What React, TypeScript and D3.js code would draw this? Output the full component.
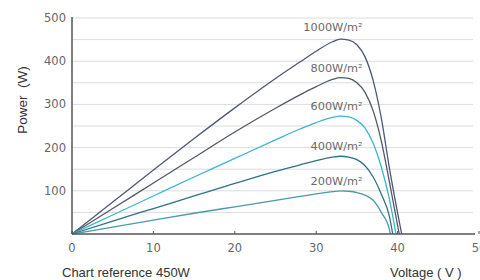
import React from "react";
import * as d3 from "d3";

const voltages = [0, 5, 10, 15, 20, 25, 28, 30, 32, 33, 34, 35, 36, 37, 38, 39];
const p1000 = [0, 74, 148, 221, 292, 360, 398, 423, 445, 451, 449, 438, 410, 355, 268, 152];
const p800 = [0, 59, 118, 177, 236, 291, 322, 341, 358, 362, 360, 350, 328, 285, 215, 120];
const p600 = [0, 44, 88, 132, 175, 218, 243, 258, 270, 273, 271, 263, 245, 210, 155, 80];
const p400 = [0, 30, 59, 88, 117, 145, 160, 170, 178, 180, 178, 172, 158, 132, 92, 40];
const p200 = [0, 16, 32, 48, 63, 78, 87, 93, 98, 100, 99, 96, 90, 78, 50, 10];
const vocs = [40.5, 40.2, 39.8, 39.4, 39.1];
const seriesLabels = ["1000W/m²", "800W/m²", "600W/m²", "400W/m²", "200W/m²"];
const seriesPeaks = [451, 362, 273, 180, 100];
const seriesColors = ["#4e5876", "#4f5966", "#3bb6ca", "#2e7282", "#4a9aa8"];
const xTicks = [0, 10, 20, 30, 40, 50];
const yTicks = [100, 200, 300, 400, 500];
const gridValues = [50, 100, 150, 200, 250, 300, 350, 400, 450, 500];

const allSeries = [p1000, p800, p600, p400, p200];

export default function App() {
  const W = 480;
  const H = 280;
  const x = d3.scaleLinear().domain([0, 50]).range([72, 479]);
  const y = d3.scaleLinear().domain([0, 500]).range([234, 18]);
  const line = d3
    .line<[number, number]>()
    .x((d) => x(d[0]))
    .y((d) => y(d[1]))
    .curve(d3.curveMonotoneX);

  return (
    <svg
      width={W}
      height={H}
      style={{ position: "absolute", left: 0, top: 0, background: "#fff" }}
    >
      {gridValues.map((g) => (
        <line
          key={g}
          x1={x(0)}
          x2={473}
          y1={y(g)}
          y2={y(g)}
          stroke="#dcdcdc"
          strokeWidth={1}
        />
      ))}
      {allSeries.map((s, i) => {
        const pts: [number, number][] = voltages
          .map((v, j) => [v, s[j]] as [number, number])
          .filter((d) => d[0] < vocs[i]);
        pts.push([vocs[i], 0]);
        return (
          <path
            key={i}
            d={line(pts) || ""}
            fill="none"
            stroke={seriesColors[i]}
            strokeWidth={1.3}
          />
        );
      })}
      {seriesLabels.map((t, i) => (
        <text
          key={t}
          x={x(35.7)}
          y={y(seriesPeaks[i]) - 6 - (i === 0 ? 2 : 0)}
          textAnchor="end"
          fontFamily="DejaVu Sans"
          fontSize={11.3}
          fill="#6a6a6a"
        >
          {t}
        </text>
      ))}
      <line x1={x(0)} x2={x(0)} y1={17} y2={y(0)} stroke="#555" strokeWidth={1.5} />
      <line x1={x(0)} x2={475} y1={y(0)} y2={y(0)} stroke="#555" strokeWidth={1.5} />
      {xTicks.map((t) => (
        <g key={t}>
          <line x1={x(t)} x2={x(t)} y1={y(0)} y2={y(0) - 3} stroke="#555" />
          <text
            x={x(t)}
            y={252}
            textAnchor="middle"
            fontFamily="DejaVu Sans"
            fontSize={11.5}
            fill="#666"
          >
            {t}
          </text>
        </g>
      ))}
      {yTicks.map((t) => (
        <text
          key={t}
          x={66}
          y={y(t) + 4}
          textAnchor="end"
          fontFamily="DejaVu Sans"
          fontSize={11.5}
          fill="#666"
        >
          {t}
        </text>
      ))}
      <text
        transform="translate(27,100) rotate(-90)"
        textAnchor="middle"
        fontFamily="Liberation Sans"
        fontSize={13.5}
        fill="#333"
        style={{ whiteSpace: "pre" }}
      >
        {"Power  (W)"}
      </text>
      <text x={62} y={277} fontFamily="Liberation Sans" fontSize={13} fill="#333">
        Chart reference 450W
      </text>
      <text x={390} y={277} fontFamily="Liberation Sans" fontSize={13} fill="#333" style={{ whiteSpace: "pre" }}>
        {"Voltage ( V )"}
      </text>
    </svg>
  );
}
